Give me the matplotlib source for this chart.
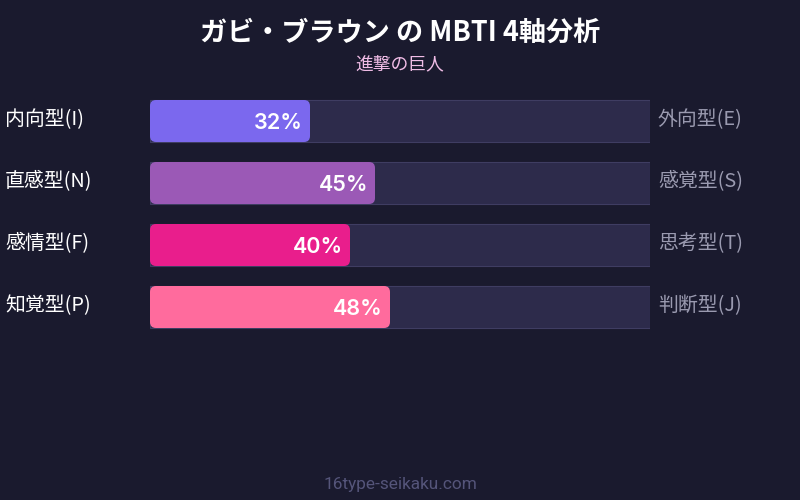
import matplotlib
matplotlib.use("Agg")
import matplotlib.pyplot as plt
from matplotlib.patches import FancyBboxPatch, Rectangle

plt.rcParams['font.family'] = ['Noto Sans CJK JP', 'DejaVu Sans']

title = "ガビ・ブラウン の MBTI 4軸分析"
subtitle = "進撃の巨人"
footer = "16type-seikaku.com"
left_labels = ["内向型(I)", "直感型(N)", "感情型(F)", "知覚型(P)"]
right_labels = ["外向型(E)", "感覚型(S)", "思考型(T)", "判断型(J)"]
values = [32, 45, 40, 48]
colors = ["#7b68ee", "#9b59b6", "#e91e8c", "#ff6b9d"]

BG = "#1a1a2e"
W, H = 800, 500
fig = plt.figure(figsize=(8, 5), dpi=100, facecolor=BG)

# axes for bars: x 150..650 px, y 90..338 px from top
ax = fig.add_axes([150 / W, 1 - 338 / H, 500 / W, 248 / H])
ax.set_facecolor("none")
ax.set_xlim(0, 100)
ax.set_ylim(len(values) - 0.5, -0.5)
ax.axis("off")

bh = 42 / 62
px_x = 100 / 500   # data units per px in x
px_y = 1 / 62      # data units per px in y
r = 6 * px_x
for i, (v, c) in enumerate(zip(values, colors)):
    ax.add_patch(Rectangle((0, i - bh / 2), 100, bh, facecolor="#2d2b4b",
                           edgecolor="#3f3d62", linewidth=0.8, zorder=1))
    ax.add_patch(FancyBboxPatch((0, i - bh / 2), v, bh,
                                boxstyle=f"round,pad=0,rounding_size={r}",
                                mutation_aspect=px_y / px_x,
                                facecolor=c, edgecolor="none", zorder=2))
    ax.text(v - 7 * px_x, i, f"{v}%", ha="right", va="center_baseline",
            color="white", fontsize=15.5, fontweight="semibold",
            family=["Inter", "DejaVu Sans"], zorder=3)

# page-level text in pixel coords
fig.text(400 / W, 1 - 33 / H, title, ha="center", va="center",
         color="white", fontsize=19.5, fontweight="bold")
fig.text(400 / W, 1 - 64 / H, subtitle, ha="center", va="center",
         color="#f0bce6", fontsize=12.8)
for i, (l, rl) in enumerate(zip(left_labels, right_labels)):
    y = 1 - (120 + 62 * i) / H
    fig.text(5 / W, y, l, ha="left", va="center", color="white", fontsize=14.3)
    fig.text(658 / W, y, rl, ha="left", va="center", color="#9a9ab0", fontsize=14.3)
fig.text(400 / W, 1 - 484 / H, footer, ha="center", va="center",
         color="#55557a", fontsize=12.4, family=["Roboto", "DejaVu Sans"])

fig.savefig("out.png", dpi=100, facecolor=BG)
